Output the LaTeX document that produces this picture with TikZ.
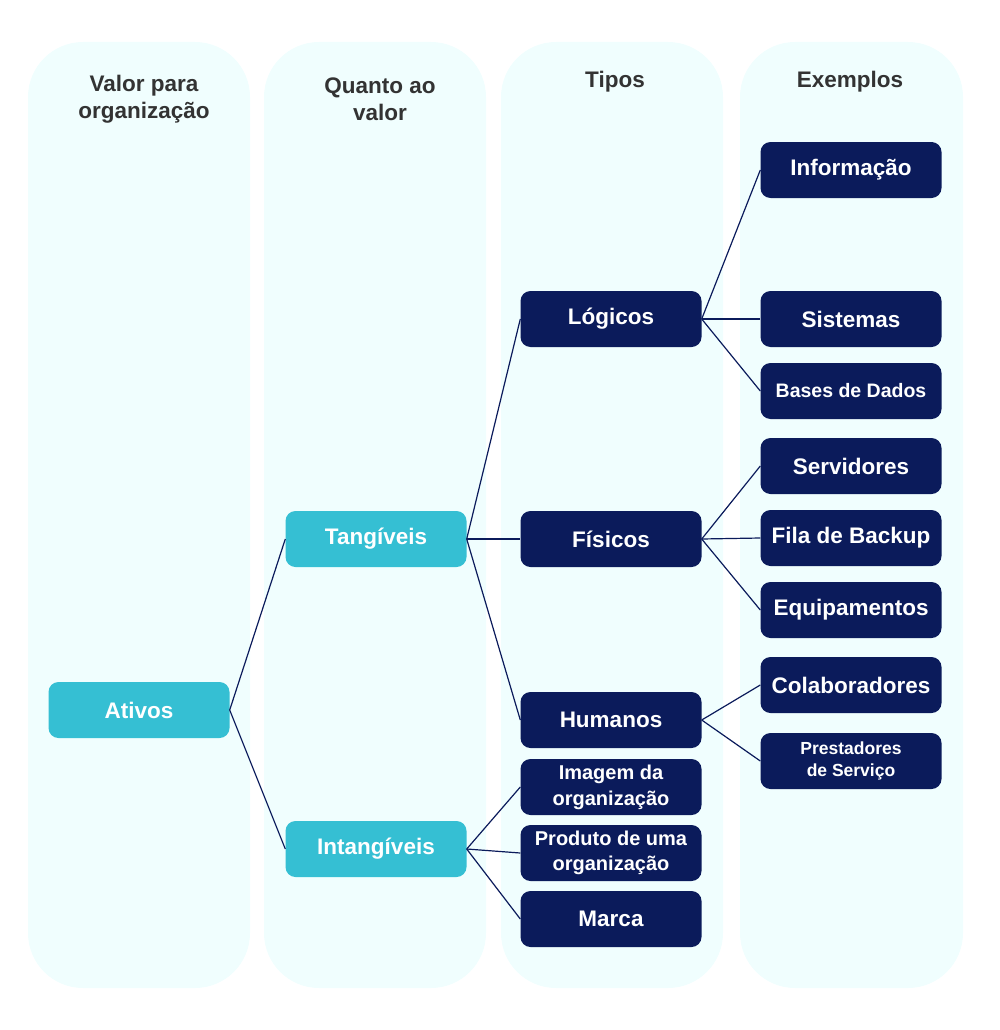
\documentclass[tikz,border=0pt]{standalone}
\usepackage{fontspec}
\setmainfont{Liberation Sans}
\usepackage{tikz}
\definecolor{navy}{HTML}{0B1B5B}
\definecolor{cyanbox}{HTML}{35BFD3}
\definecolor{colbg}{HTML}{F0FEFE}
\definecolor{headtext}{HTML}{333333}
\tikzset{
    box/.style={rectangle,rounded corners=10pt,minimum width=181pt,minimum height=56pt,inner sep=0pt,
        text=white,align=center,font=\bfseries\fontsize{22.5}{27}\selectfont},
    main/.style={box,fill=cyanbox},
    leaf/.style={box,fill=navy},
    small/.style={font=\bfseries\fontsize{19.5}{24}\selectfont},
    tiny/.style={font=\bfseries\fontsize{17.5}{22}\selectfont},
    head/.style={align=center,text=headtext,font=\bfseries\fontsize{22.5}{27}\selectfont},
    column/.style={fill=colbg,rounded corners=55pt},
    link/.style={draw=navy,line width=1.2pt},
    }
\begin{document}
\begin{tikzpicture}[x=1pt,y=-1pt]
    \useasboundingbox (0,0) rectangle (1000,1030);
    \fill[column] (28,42) rectangle (250,988);
    \fill[column] (264,42) rectangle (486,988);
    \fill[column] (501,42) rectangle (723,988);
    \fill[column] (740,42) rectangle (963,988);

    \node[head] (h1) at (144,99) {Valor para\\organização};
    \node[head] (h2) at (380,99) {Quanto ao\\valor};
    \node[head] (h3) at (615,82) {Tipos};
    \node[head] (h4) at (850,82) {Exemplos};

    \node[main] (ativos) at (139,710) {Ativos};
    \node[main] (tang) at (376,539) {Tangíveis};
    \node[main] (intang) at (376,849) {Intangíveis};

    \node[leaf] (log) at (611,319) {Lógicos};
    \node[leaf] (fis) at (611,539) {Físicos};
    \node[leaf] (hum) at (611,720) {Humanos};
    \node[leaf,font=\bfseries\fontsize{20}{26}\selectfont] (img) at (611,787) {Imagem da\\organização};
    \node[leaf,font=\bfseries\fontsize{20}{25}\selectfont] (prod) at (611,853) {Produto de uma\\organização};
    \node[leaf] (marca) at (611,919) {Marca};

    \node[leaf] (info) at (851,170) {Informação};
    \node[leaf] (sis) at (851,319) {Sistemas};
    \node[leaf,small] (bd) at (851,391) {Bases de Dados};
    \node[leaf] (serv) at (851,466) {Servidores};
    \node[leaf] (fila) at (851,538) {Fila de Backup};
    \node[leaf] (equip) at (851,610) {Equipamentos};
    \node[leaf] (colab) at (851,685) {Colaboradores};
    \node[leaf,tiny] (prest) at (851,761) {Prestadores\\de Serviço};

    \draw[link] (ativos.east) to (tang.west);
    \draw[link] (ativos.east) to (intang.west);

    \draw[link] (tang.east) to (log.west);
    \draw[link] (tang.east) to (fis.west);
    \draw[link] (tang.east) to (hum.west);
    \draw[link] (intang.east) to (img.west);
    \draw[link] (intang.east) to (prod.west);
    \draw[link] (intang.east) to (marca.west);

    \draw[link] (log.east) to (info.west);
    \draw[link] (log.east) to (sis.west);
    \draw[link] (log.east) to (bd.west);
    \draw[link] (fis.east) to (serv.west);
    \draw[link] (fis.east) to (fila.west);
    \draw[link] (fis.east) to (equip.west);
    \draw[link] (hum.east) to (colab.west);
    \draw[link] (hum.east) to (prest.west);
\end{tikzpicture}
\end{document}
